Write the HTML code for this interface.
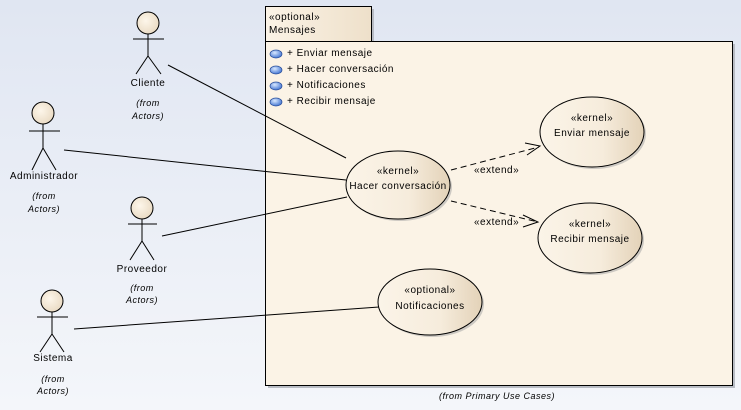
<!DOCTYPE html>
<html><head><meta charset="utf-8"><style>
html,body{margin:0;padding:0;width:741px;height:410px;overflow:hidden}
body{background:linear-gradient(#e0e6f2,#f4f6fa)}
svg text{font-family:"Liberation Sans","DejaVu Sans",sans-serif;font-size:10px;fill:#000;letter-spacing:0.5px}
</style></head><body>
<svg width="741" height="410" viewBox="0 0 741 410" xmlns="http://www.w3.org/2000/svg">
<defs>
<linearGradient id="eg" x1="0" y1="0" x2="1" y2="0">
<stop offset="0" stop-color="#fbf4e8"/><stop offset="0.6" stop-color="#f6ecdc"/><stop offset="1" stop-color="#e3d2b8"/></linearGradient>
<radialGradient id="hg" cx="0.4" cy="0.4" r="0.7"><stop offset="0" stop-color="#fdf6ea"/><stop offset="1" stop-color="#e8d8c0"/></radialGradient>
<linearGradient id="tg" x1="0" y1="0" x2="1" y2="0"><stop offset="0" stop-color="#fbf3e6"/><stop offset="1" stop-color="#eee0ca"/></linearGradient>
<radialGradient id="bl" cx="0.4" cy="0.35" r="0.7"><stop offset="0" stop-color="#d8e8ff"/><stop offset="1" stop-color="#3a6fd0"/></radialGradient>
</defs>
<rect x="268" y="9" width="106" height="35" fill="#b8bcc4"/>
<rect x="268" y="44" width="467" height="344" fill="#b8bcc4"/>
<rect x="265.5" y="6.5" width="106" height="35" fill="url(#tg)" stroke="#000"/>
<rect x="265.5" y="41.5" width="467" height="344" fill="#fbf3e6" stroke="#000"/>
<text x="269" y="20">«optional»</text>
<text x="269" y="33">Mensajes</text>
<g>
<ellipse cx="276" cy="54" rx="6" ry="4" fill="url(#bl)" stroke="#2a4f9a" stroke-width="0.7"/>
<ellipse cx="276" cy="70" rx="6" ry="4" fill="url(#bl)" stroke="#2a4f9a" stroke-width="0.7"/>
<ellipse cx="276" cy="86" rx="6" ry="4" fill="url(#bl)" stroke="#2a4f9a" stroke-width="0.7"/>
<ellipse cx="276" cy="102" rx="6" ry="4" fill="url(#bl)" stroke="#2a4f9a" stroke-width="0.7"/>
</g>
<text x="287" y="56">+ Enviar mensaje</text>
<text x="287" y="72">+ Hacer conversación</text>
<text x="287" y="88">+ Notificaciones</text>
<text x="287" y="104">+ Recibir mensaje</text>
<text x="439" y="399" font-style="italic" style="font-size:9px">(from Primary Use Cases)</text>
<g stroke="#000" stroke-width="1">
<line x1="168" y1="65" x2="346" y2="158"/>
<line x1="64" y1="150" x2="346" y2="180"/>
<line x1="162" y1="236" x2="347" y2="197"/>
<line x1="74" y1="329" x2="379" y2="307"/>
</g>
<g stroke="#000" stroke-width="1" fill="none" stroke-dasharray="6,4">
<line x1="451" y1="170" x2="539" y2="147"/>
<line x1="451" y1="201" x2="538" y2="222"/>
</g>
<g stroke="#000" stroke-width="1" fill="none">
<polyline points="525,143 540,146 527,155"/>
<polyline points="523,215 538,222 523,227"/>
</g>
<text x="474" y="173">«extend»</text>
<text x="474" y="225">«extend»</text>
<g stroke="#000" stroke-width="1" fill="url(#eg)">
<ellipse cx="400" cy="187" rx="52" ry="34" fill="#a0a0a0" stroke="none" opacity="0.5"/>
<ellipse cx="398" cy="185" rx="52" ry="34"/>
<ellipse cx="594" cy="134" rx="52" ry="35" fill="#a0a0a0" stroke="none" opacity="0.5"/>
<ellipse cx="592" cy="132" rx="52" ry="35"/>
<ellipse cx="592" cy="240" rx="52" ry="35" fill="#a0a0a0" stroke="none" opacity="0.5"/>
<ellipse cx="590" cy="238" rx="52" ry="35"/>
<ellipse cx="432" cy="304" rx="52" ry="33" fill="#a0a0a0" stroke="none" opacity="0.5"/>
<ellipse cx="430" cy="302" rx="52" ry="33"/>
</g>
<g text-anchor="middle">
<text x="398" y="174">«kernel»</text>
<text x="398" y="189">Hacer conversación</text>
<text x="592" y="121">«kernel»</text>
<text x="592" y="136">Enviar mensaje</text>
<text x="590" y="227">«kernel»</text>
<text x="590" y="242">Recibir mensaje</text>
<text x="430" y="293">«optional»</text>
<text x="430" y="309">Notificaciones</text>
</g>
<g stroke="#000" stroke-width="1" fill="url(#hg)">
<circle cx="148" cy="23" r="11"/>
<path d="M148 34V56M133 39H164M148 56L136 74M148 56L161 74" fill="none"/>
<circle cx="43" cy="113" r="11"/>
<path d="M43 124V148M29 131H60M43 148L32 170M43 148L56 170" fill="none"/>
<circle cx="142" cy="208" r="11"/>
<path d="M142 219V241M128 224H157M142 241L130 260M142 241L154 260" fill="none"/>
<circle cx="52" cy="301" r="11"/>
<path d="M52 312V334M37 317H68M52 334L40 352M52 334L64 352" fill="none"/>
</g>
<g text-anchor="middle">
<text x="148" y="86">Cliente</text>
<text x="148" y="106" font-style="italic" style="font-size:9px">(from</text>
<text x="148" y="119" font-style="italic" style="font-size:9px">Actors)</text>
<text x="44" y="179">Administrador</text>
<text x="44" y="199" font-style="italic" style="font-size:9px">(from</text>
<text x="44" y="212" font-style="italic" style="font-size:9px">Actors)</text>
<text x="142" y="272">Proveedor</text>
<text x="142" y="291" font-style="italic" style="font-size:9px">(from</text>
<text x="142" y="303" font-style="italic" style="font-size:9px">Actors)</text>
<text x="53" y="361">Sistema</text>
<text x="53" y="382" font-style="italic" style="font-size:9px">(from</text>
<text x="53" y="394" font-style="italic" style="font-size:9px">Actors)</text>
</g>
</svg>
</body></html>
